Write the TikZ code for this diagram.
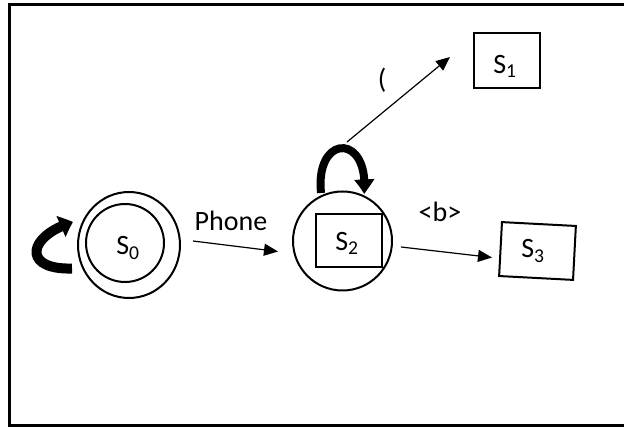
\documentclass[tikz,border=0pt]{standalone}
\usepackage{fontspec}
\setmainfont{Carlito}
\usetikzlibrary{arrows.meta,bending}
\begin{document}
\begin{tikzpicture}[x=1pt,y=-1pt,
  lbl/.style={inner sep=0pt,font=\fontsize{28}{32}\selectfont},
  boxst/.style={draw,line width=2pt,inner sep=0pt},
  edge/.style={line width=1.2pt,-{Triangle[length=14pt,width=12pt]}},
  thickloop/.style={line width=8pt,-{Triangle[length=15pt,width=19pt,bend]}},
  thickc/.style={line width=10pt,-{Triangle[length=13pt,width=22pt,bend]}}]
\useasboundingbox (0,0) rectangle (624,427);
\fill[white] (0,0) rectangle (624,427);
% frame
\draw[line width=3pt] (626,4.5) -- (9,4.5) -- (9,425.5) -- (626,425.5);
% S0
\draw[line width=2pt] (129,245) ellipse [x radius=51, y radius=53];
\node[draw,line width=2pt,circle,minimum size=78pt,inner sep=0pt] (s0) at (125,243) {};
\node[lbl] (s0t) at (128,248) {S\textsubscript{0}};
% S2
\node[draw,line width=2pt,circle,minimum size=99pt,inner sep=0pt] (s2c) at (342.5,241) {};
\node[boxst,minimum width=66pt,minimum height=53pt] (s2) at (349,240.5) {};
\node[lbl] (s2t) at (347,243) {S\textsubscript{2}};
% S1
\node[boxst,minimum width=66pt,minimum height=55pt] (s1) at (507,60.5) {};
\node[lbl] (s1t) at (505,66) {S\textsubscript{1}};
% S3
\node[boxst,minimum width=74pt,minimum height=54pt,rotate=-3] (s3) at (537.5,251) {};
\node[lbl] (s3t) at (533,251) {S\textsubscript{3}};
% coordinates for connector ends
\coordinate (pA) at (193,241);
\coordinate (pB) at (278,251.5);
\coordinate (bA) at (401,247);
\coordinate (bB) at (492,257.5);
\coordinate (oA) at (347,142);
\coordinate (oB) at (450,57);
\coordinate (lA) at (321,193);
\coordinate (lB) at (364,194);
\coordinate (cA) at (72,268.5);
\coordinate (cB) at (73,222);
% connectors
\draw[edge] (pA) -- (pB);
\draw[edge] (bA) -- (bB);
\draw[edge] (oA) -- (oB);
\draw[thickloop] (lA) .. controls (315,133) and (370,133) .. (lB);
\draw[thickc] (cA) .. controls (22,270) and (27,236) .. (cB);
% labels
\node[lbl] (lphone) at (231,221) {Phone};
\node[lbl] (lparen) at (382,80) {(};
\node[lbl] (lb) at (440,212) {<b>};
\end{tikzpicture}
\end{document}
